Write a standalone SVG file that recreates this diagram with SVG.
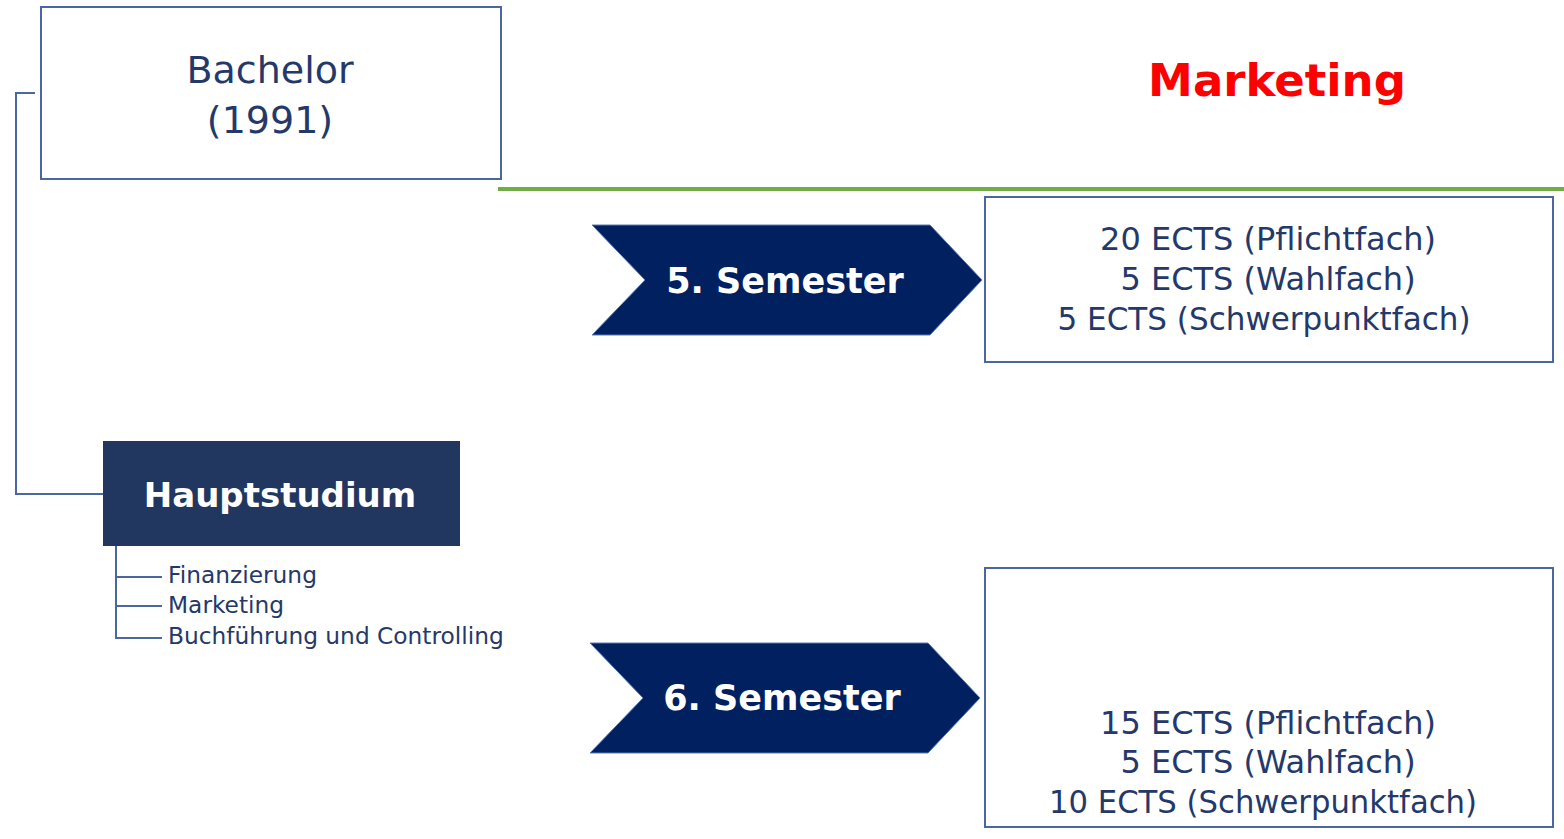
<svg xmlns="http://www.w3.org/2000/svg" width="1564" height="839" viewBox="0 0 1564 839">
<style>
.box{fill:#fff;stroke:#4a67a1;stroke-width:2}
.chev{fill:#002060;stroke:#5a7bb5;stroke-width:1}
.line{fill:none;stroke:#4a67a1;stroke-width:2}
text{font-family:"Comic Sans MS","DejaVu Sans",sans-serif}
.dk{fill:#24396a}
.wh{fill:#fff;font-weight:bold}
</style>
<rect width="1564" height="839" fill="#fff"/>
<g id="connectors">
<polyline class="line" points="35,93 16,93 16,494 103,494"/>
<polyline class="line" points="116,546 116,638 162,638"/>
<line class="line" x1="116" y1="577" x2="162" y2="577"/>
<line class="line" x1="116" y1="606" x2="162" y2="606"/>
<line x1="498" y1="189" x2="1564" y2="189" stroke="#70ad47" stroke-width="4"/>
</g>
<g id="bachelor">
<rect class="box" x="41" y="7" width="460" height="172"/>
<text class="dk" x="270" y="83" font-size="38" text-anchor="middle">Bachelor</text>
<text class="dk" x="270" y="133" font-size="38" text-anchor="middle">(1991)</text>
</g>
<g id="title">
<text x="1277" y="96" font-size="45" font-weight="bold" fill="#ff0000" text-anchor="middle">Marketing</text>
</g>
<g id="hauptstudium">
<rect x="103" y="441" width="357" height="105" fill="#213760"/>
<text class="wh" x="280" y="507" font-size="34" text-anchor="middle">Hauptstudium</text>
</g>
<g id="subjects">
<text class="dk" x="168" y="583" font-size="23.3">Finanzierung</text>
<text class="dk" x="168" y="613" font-size="23.3">Marketing</text>
<text class="dk" x="168" y="644" font-size="23.3">Buchführung und Controlling</text>
</g>
<g id="sem5">
<polygon class="chev" points="592,225 930,225 982,280 930,335 592,335 645,280"/>
<text class="wh" x="785" y="293" font-size="35" text-anchor="middle">5. Semester</text>
</g>
<g id="ects5">
<rect class="box" x="985" y="197" width="568" height="165"/>
<text class="dk" x="1268" y="250" font-size="32" text-anchor="middle">20 ECTS (Pflichtfach)</text>
<text class="dk" x="1268" y="290" font-size="32" text-anchor="middle">5 ECTS (Wahlfach)</text>
<text class="dk" x="1264" y="330" font-size="32" text-anchor="middle" textLength="413" lengthAdjust="spacingAndGlyphs">5 ECTS (Schwerpunktfach)</text>
</g>
<g id="sem6">
<polygon class="chev" points="590,643 928,643 980,698 928,753 590,753 643,698"/>
<text class="wh" x="782" y="710" font-size="35" text-anchor="middle">6. Semester</text>
</g>
<g id="ects6">
<rect class="box" x="985" y="568" width="568" height="259"/>
<text class="dk" x="1268" y="734" font-size="32" text-anchor="middle">15 ECTS (Pflichtfach)</text>
<text class="dk" x="1268" y="773" font-size="32" text-anchor="middle">5 ECTS (Wahlfach)</text>
<text class="dk" x="1263" y="813" font-size="32" text-anchor="middle" textLength="428" lengthAdjust="spacingAndGlyphs">10 ECTS (Schwerpunktfach)</text>
</g>
</svg>
